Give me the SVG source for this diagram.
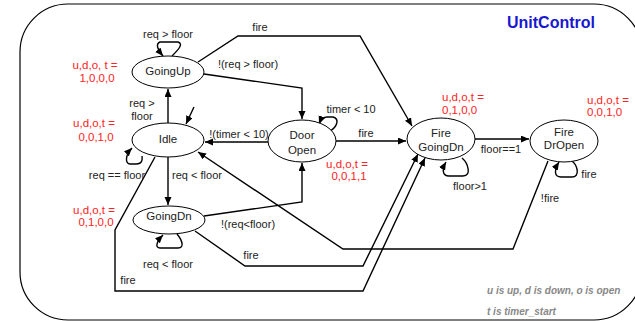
<svg xmlns="http://www.w3.org/2000/svg" width="635" height="321" viewBox="0 0 635 321">
<style>
.node ellipse{fill:#fff;stroke:#000;stroke-width:1}
.nt{font-family:"Liberation Sans",Arial,sans-serif;font-size:11.5px;text-anchor:middle;fill:#222}
.lbl{font-family:"Liberation Sans",Arial,sans-serif;font-size:11px;text-anchor:middle;fill:#222}
.red{font-family:"Liberation Sans",Arial,sans-serif;font-size:11.5px;text-anchor:middle;fill:#f22}
.redl{font-family:"Liberation Sans",Arial,sans-serif;font-size:11.5px;fill:#f22}
.conn path{fill:none;stroke:#000;stroke-width:1.4;marker-end:url(#ah)}
.note{font-family:"Liberation Sans",Arial,sans-serif;font-size:10px;font-weight:bold;font-style:italic;fill:#888}
</style>
<defs>
<marker id="ah" markerUnits="userSpaceOnUse" markerWidth="9" markerHeight="8" refX="8" refY="3.5" orient="auto">
<path d="M0,0 L8,3.5 L0,7 z" fill="#000"/>
</marker>
</defs>
<rect x="20" y="4" width="622" height="316" rx="48" ry="48" fill="#fff" stroke="#000" stroke-width="1.2"/>
<text x="507" y="28" font-family="Liberation Sans,Arial,sans-serif" font-size="16" font-weight="bold" fill="#1818d0">UnitControl</text>

<g id="connectors" class="conn">
<path d="M204,74 L302,88 L302,119"/>
<path d="M198,62 L238,36 L360,36 L412,126"/>
<path d="M168,123 L168,89"/>
<path d="M194,107 L186,124"/>
<path d="M268,142 L205,142"/>
<path d="M330,131 C337,127 340,119 333,117 L327,117 C323,117 321,119 319,124"/>
<path d="M336,141 L406,141"/>
<path d="M475,139 L529,139"/>
<path d="M462,158 C468,163 472,176 463,176 L449,176 C442,176 442,169 446,162"/>
<path d="M572,161 C578,166 580,177 572,177 L561,177 C554,177 554,170 559,162"/>
<path d="M548,161 L513,249 L343,249 L198,152"/>
<path d="M204,216 L302,202 L302,163"/>
<path d="M195,231 L245,266 L363,266 L418,154"/>
<path d="M155,157 L115,230 L115,291 L363,291 L425,158"/>
<path d="M168,157 L168,205"/>
<path d="M142,156 C143,163 140,164 134,164 L130,164 C125,164 125,155 132,148"/>
<path d="M172,56 C178,50 184,44 178,42 L160,42 C155,44 158,50 163,56"/>
<path d="M177,234 C182,240 185,248 178,248 L160,248 C155,248 156,242 163,235"/>
</g>

<g id="GoingUp" class="node"><ellipse cx="168" cy="72" rx="36" ry="16"/><text class="nt" x="168" y="75">GoingUp</text></g>
<g id="Idle" class="node"><ellipse cx="168" cy="140" rx="36" ry="17"/><text class="nt" x="168" y="143">Idle</text></g>
<g id="GoingDn" class="node"><ellipse cx="169" cy="220" rx="36" ry="14"/><text class="nt" x="169" y="220">GoingDn</text></g>
<g id="DoorOpen" class="node"><ellipse cx="302" cy="141" rx="34" ry="21"/><text class="nt" x="302" y="139">Door</text><text class="nt" x="302" y="154">Open</text></g>
<g id="FireGoingDn" class="node"><ellipse cx="441" cy="139" rx="34" ry="21"/><text class="nt" x="441" y="137">Fire</text><text class="nt" x="441" y="151">GoingDn</text></g>
<g id="FireDrOpen" class="node"><ellipse cx="564" cy="141" rx="34" ry="21"/><text class="nt" x="564" y="136">Fire</text><text class="nt" x="564" y="149">DrOpen</text></g>

<g id="labels">
<text class="lbl" x="168" y="38">req &gt; floor</text>
<text class="lbl" x="260" y="31">fire</text>
<text class="lbl" x="248" y="68">!(req &gt; floor)</text>
<text class="lbl" x="142" y="107">req &gt;</text>
<text class="lbl" x="142" y="120">floor</text>
<text class="lbl" x="239" y="138">!(timer &lt; 10)</text>
<text class="lbl" x="351" y="113">timer &lt; 10</text>
<text class="lbl" x="366" y="137">fire</text>
<text class="lbl" x="501" y="153">floor==1</text>
<text class="lbl" x="470" y="190">floor&gt;1</text>
<text class="lbl" x="589" y="178">fire</text>
<text class="lbl" x="550" y="202">!fire</text>
<text class="lbl" x="117" y="179">req == floor</text>
<text class="lbl" x="197" y="179">req &lt; floor</text>
<text class="lbl" x="248" y="228">!(req&lt;floor)</text>
<text class="lbl" x="251" y="259">fire</text>
<text class="lbl" x="168" y="268">req &lt; floor</text>
<text class="lbl" x="128" y="284">fire</text>
</g>

<g id="outputs">
<text class="red" x="95" y="69">u,d,o, t =</text>
<text class="red" x="97" y="82">1,0,0,0</text>
<text class="red" x="94" y="127">u,d,o,t =</text>
<text class="red" x="96" y="141">0,0,1,0</text>
<text class="red" x="94" y="214">u,d,o,t =</text>
<text class="red" x="96" y="226">0,1,0,0</text>
<text class="red" x="347" y="168">u,d,o,t =</text>
<text class="red" x="349" y="180">0,0,1,1</text>
<text class="redl" x="442" y="101">u,d,o,t =</text>
<text class="redl" x="442" y="114">0,1,0,0</text>
<text class="redl" x="587" y="104">u,d,o,t =</text>
<text class="redl" x="587" y="116">0,0,1,0</text>
</g>

<text class="note" x="487" y="294">u is up, d is down, o is open</text>
<text class="note" x="487" y="315">t is timer_start</text>
</svg>
